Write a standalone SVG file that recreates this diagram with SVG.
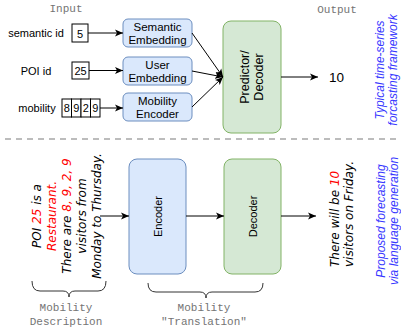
<svg xmlns="http://www.w3.org/2000/svg" width="401" height="331" viewBox="0 0 401 331">
<style>
.lbl{font-family:"Liberation Sans",Arial,sans-serif;fill:#000}
.mono{font-family:"Liberation Mono","Courier New",monospace;fill:#747474;font-size:11px}
.blue{font-family:"Liberation Sans",Arial,sans-serif;font-style:italic;fill:#3838ff;font-size:12px}
.comic{font-family:"DejaVu Sans",sans-serif;font-style:oblique;font-size:12px;fill:#000}
.red{fill:#ff0000}
.bnode{fill:#dae8fc;stroke:#6c8ebf;stroke-width:1}
.gnode{fill:#d5e8d4;stroke:#82b366;stroke-width:1}
.cell{fill:#fff;stroke:#000;stroke-width:1}
.edge{stroke:#000;stroke-width:1;fill:none;marker-end:url(#arr)}
.brace{stroke:#333;stroke-width:1;fill:none}
</style>
<defs>
<marker id="arr" markerUnits="userSpaceOnUse" markerWidth="10" markerHeight="8" refX="8" refY="4" orient="auto">
<path d="M0,0.5 L8,4 L0,7.5 L2,4 Z" fill="#000"/>
</marker>
</defs>
<rect width="401" height="331" fill="#fff"/>

<text class="mono" x="66" y="12" text-anchor="middle" font-size="10.5">Input</text>
<text class="mono" x="337" y="13" text-anchor="middle">Output</text>

<g id="semantic-id">
<text class="lbl" x="36" y="37" text-anchor="middle" font-size="11">semantic id</text>
<rect class="cell" x="72" y="24" width="16" height="18"/>
<text class="lbl" x="80" y="37.5" text-anchor="middle" font-size="11">5</text>
</g>
<g id="poi-id">
<text class="lbl" x="36" y="75" text-anchor="middle" font-size="11">POI id</text>
<rect class="cell" x="72" y="62" width="17" height="17"/>
<text class="lbl" x="80.5" y="75" text-anchor="middle" font-size="11">25</text>
</g>
<g id="mobility">
<text class="lbl" x="37" y="112" text-anchor="middle" font-size="11">mobility</text>
<rect class="cell" x="62" y="99" width="9.5" height="18"/>
<rect class="cell" x="71.5" y="99" width="9.5" height="18"/>
<rect class="cell" x="81" y="99" width="9.5" height="18"/>
<rect class="cell" x="90.5" y="99" width="9.5" height="18"/>
<text class="lbl" x="66.75" y="112" text-anchor="middle" font-size="11">8</text>
<text class="lbl" x="76.25" y="112" text-anchor="middle" font-size="11">9</text>
<text class="lbl" x="85.75" y="112" text-anchor="middle" font-size="11">2</text>
<text class="lbl" x="95.25" y="112" text-anchor="middle" font-size="11">9</text>
</g>

<g id="semantic-embedding">
<rect class="bnode" x="123" y="19" width="69" height="28" rx="5"/>
<text class="lbl" x="157.5" y="31" text-anchor="middle" font-size="11.5">Semantic</text>
<text class="lbl" x="157.5" y="44" text-anchor="middle" font-size="11.5">Embedding</text>
</g>
<g id="user-embedding">
<rect class="bnode" x="123" y="57" width="69" height="28" rx="5"/>
<text class="lbl" x="157.5" y="69" text-anchor="middle" font-size="11.5">User</text>
<text class="lbl" x="157.5" y="82" text-anchor="middle" font-size="11.5">Embedding</text>
</g>
<g id="mobility-encoder">
<rect class="bnode" x="123" y="93" width="69" height="28" rx="5"/>
<text class="lbl" x="157.5" y="105" text-anchor="middle" font-size="11.5">Mobility</text>
<text class="lbl" x="157.5" y="118" text-anchor="middle" font-size="11.5">Encoder</text>
</g>
<g id="predictor-decoder">
<rect class="gnode" x="223" y="21" width="58" height="112" rx="8"/>
<g transform="translate(252,77) rotate(-90)">
<text class="lbl" x="0" y="-3" text-anchor="middle" font-size="12.5">Predictor/</text>
<text class="lbl" x="0" y="11" text-anchor="middle" font-size="12.5">Decoder</text>
</g>
</g>
<g id="output-10">
<text class="lbl" x="329" y="82" font-size="13.5">10</text>
</g>
<g id="label-typical">
<g transform="translate(0,70) rotate(-90)">
<text class="blue" x="0" y="384" text-anchor="middle">Typical time-series</text>
<text class="blue" x="0" y="397" text-anchor="middle">forcasting framework</text>
</g>
</g>

<line x1="5" y1="139" x2="398" y2="139" stroke="#a6a6a6" stroke-width="1.5" stroke-dasharray="6,5"/>

<g id="mobility-description">
<g transform="translate(0,216) rotate(-90)">
<text class="comic" x="0" y="41" text-anchor="middle">POI <tspan class="red">25</tspan> is a</text>
<text class="comic" x="0" y="56" text-anchor="middle"><tspan class="red">Restaurant.</tspan></text>
<text class="comic" x="0" y="71" text-anchor="middle">There are <tspan class="red">8, 9, 2, 9</tspan></text>
<text class="comic" x="0" y="86" text-anchor="middle">visitors from</text>
<text class="comic" x="0" y="101" text-anchor="middle">Monday to Thursday.</text>
</g>
</g>
<g id="encoder">
<rect class="bnode" x="129" y="159" width="57" height="115" rx="8"/>
<g transform="translate(157.5,216.5) rotate(-90)">
<text class="lbl" x="0" y="4" text-anchor="middle" font-size="11">Encoder</text>
</g>
</g>
<g id="decoder">
<rect class="gnode" x="224" y="159" width="57" height="115" rx="8"/>
<g transform="translate(252.5,216.5) rotate(-90)">
<text class="lbl" x="0" y="4" text-anchor="middle" font-size="11">Decoder</text>
</g>
</g>
<g id="forecast-text">
<g transform="translate(0,267) rotate(-90)">
<text class="comic" x="0" y="339">There will be <tspan class="red">10</tspan></text>
<text class="comic" x="0" y="353">visitors on Friday.</text>
</g>
</g>
<g id="label-proposed">
<g transform="translate(0,221) rotate(-90)">
<text class="blue" x="0" y="385" text-anchor="middle">Proposed forecasting</text>
<text class="blue" x="0" y="398" text-anchor="middle">via language generation</text>
</g>
</g>

<g id="brace-description">
<path class="brace" d="M32,281 Q32,291 40,291 H63 Q69,291 69,297 Q69,291 75,291 H98 Q106,291 106,281"/>
<text class="mono" x="66" y="311" text-anchor="middle">Mobility</text>
<text class="mono" x="66" y="325" text-anchor="middle">Description</text>
</g>
<g id="brace-translation">
<path class="brace" d="M148,283 Q148,292 156,292 H200 Q206,292 206,298 Q206,292 212,292 H255 Q263,292 263,283"/>
<text class="mono" x="204" y="311" text-anchor="middle">Mobility</text>
<text class="mono" x="204" y="325" text-anchor="middle">"Translation"</text>
</g>

<g id="connectors">
<line class="edge" x1="88" y1="33" x2="123" y2="33"/>
<line class="edge" x1="89" y1="70.5" x2="123" y2="70.5"/>
<line class="edge" x1="100" y1="108" x2="123" y2="108"/>
<line class="edge" x1="192" y1="33" x2="223" y2="77"/>
<line class="edge" x1="192" y1="71" x2="223" y2="77"/>
<line class="edge" x1="192" y1="107" x2="223" y2="77"/>
<line class="edge" x1="281" y1="77" x2="318" y2="77"/>
<line class="edge" x1="100" y1="216" x2="129" y2="216"/>
<line class="edge" x1="186" y1="216" x2="224" y2="216"/>
<line class="edge" x1="281" y1="216" x2="316" y2="216"/>
</g>
</svg>
